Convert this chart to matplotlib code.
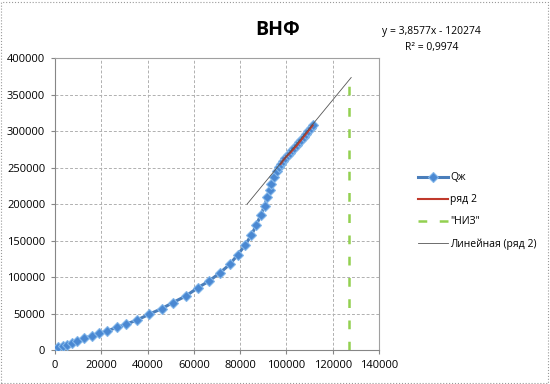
import matplotlib.pyplot as plt
from matplotlib.patches import Rectangle

# Qж (blue, diamonds)
qx = [0, 1440, 3320, 5060, 7220, 9680, 12570, 15890, 19210, 22680, 26720, 30770,
      35400, 40450, 46240, 51000, 56630, 61840, 66460, 71220, 75550, 79020, 82050,
      84800, 86900, 88850, 90580, 91740, 92880, 93480, 94630, 95800, 96700, 97500,
      98500, 99500, 100500, 101500, 102500, 103500, 104500, 105500, 106500, 107500,
      108500, 109500, 110500, 111300]
qy = [0, 3640, 5460, 6830, 10000, 12750, 15940, 19580, 22760, 26400, 30940, 35500,
      41000, 48700, 56900, 65100, 74200, 85600, 94300, 105600, 117500, 130700, 143400,
      157100, 170700, 184400, 198000, 209400, 219500, 227700, 236800, 245900, 251000, 255000,
      259500, 263500, 267000, 270000, 273500, 277000, 280500, 284500, 288500, 292500,
      296500, 300500, 304500, 308000]

# ряд 2 (red)
r2x = [97500, 98500, 99500, 100500, 101500, 102500, 103500, 104500, 105500, 106500,
       107500, 108500, 109500, 110500, 111300]
r2y = [255000, 259500, 263500, 267000, 270000, 273500, 277000, 280500, 284500, 288500,
       292500, 296500, 300500, 304500, 308000]

# "НИЗ" (green dashed vertical)
nizx = [127000, 127000]
nizy = [0, 375000]

# linear trend of ряд 2, as printed on the chart
slope = 3.8577
intercept = -120274
trendx = [83000, 128000]

plt.rcParams['font.family'] = ['Open Sans', 'DejaVu Sans']

fig = plt.figure(figsize=(5.5, 3.84), dpi=100)
ax = fig.add_axes([0.1, 0.0885, 0.589, 0.76])

ax.plot(qx, qy, color='#4A7EBB', lw=2.2, marker='D', markersize=5.4,
        markerfacecolor='#4A88D2', markeredgecolor='#82B6EA', markeredgewidth=0.8,
        label='Qж', zorder=3)
ax.plot(r2x, r2y, color='#C0392B', lw=1.5, label='ряд 2', zorder=4)
ax.plot(nizx, nizy, color='#92D050', lw=1.8, linestyle=(0, (3.5, 5)), label='"НИЗ"', zorder=3)
ax.plot(trendx, [slope * x + intercept for x in trendx], color='#555555', lw=0.6,
        label='Линейная (ряд 2)', zorder=5)

ax.set_xlim(0, 140000)
ax.set_ylim(0, 400000)
ax.set_xticks(range(0, 140001, 20000))
ax.set_yticks(range(0, 400001, 50000))
ax.tick_params(labelsize=8, length=3, width=0.8, color='#868686', pad=4)
ax.grid(True, color='#B0B0B0', linestyle=(0, (3, 2)), lw=0.7)
ax.set_axisbelow(True)
for s in ax.spines.values():
    s.set_color('#A0A0A0')
    s.set_linewidth(0.8)
ax.spines['left'].set_color('#868686')
ax.spines['bottom'].set_color('#868686')

fig.text(0.504, 0.922, 'ВНФ', fontsize=14, fontweight='bold', ha='center', va='center')
fig.text(0.784, 0.919, 'y = 3,8577x - 120274', fontsize=7.5, ha='center', va='center')
fig.text(0.784, 0.877, 'R² = 0,9974', fontsize=7.5, ha='center', va='center')

leg = fig.legend(loc='upper left', bbox_to_anchor=(0.752, 0.562), frameon=False,
                 fontsize=7.5, handlelength=2.9, handletextpad=0.2, labelspacing=1.05,
                 borderaxespad=0)

fig.patches.append(Rectangle((0.002, 0.003), 0.995, 0.993, transform=fig.transFigure,
                             fill=False, edgecolor='#999999', lw=0.8, linestyle=':'))

fig.savefig('out.png', dpi=100)
